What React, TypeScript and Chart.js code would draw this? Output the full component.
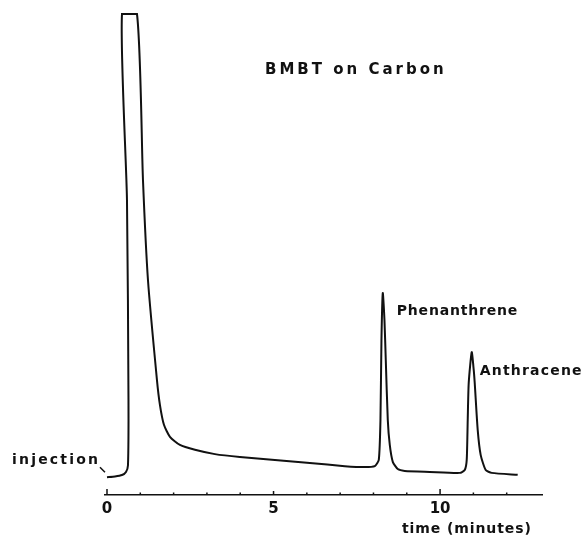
import { useEffect, useRef } from 'react';
import { Chart, registerables } from 'chart.js';

Chart.register(...registerables);

// Chromatogram trace: retention time (min) and detector response (arbitrary units, 100 = off scale)
const TIME = [
  0.0, 0.24, 0.45, 0.57, 0.63, 0.645, 0.6, 0.45,
  0.9, 1.08, 1.23, 1.5, 1.59, 1.71, 1.89, 2.19, 2.64, 3.24, 3.99, 5.04, 6.09, 7.14, 7.74,
  8.04, 8.16, 8.21, 8.24, 8.28, 8.33, 8.37, 8.43, 8.49, 8.58, 8.73, 8.94, 9.69, 10.59,
  10.74, 10.8, 10.83, 10.86, 10.95, 11.01, 11.04, 11.13, 11.22, 11.37, 11.55, 12.33,
];
const SIGNAL = [
  3.7, 3.85, 4.15, 4.8, 6.2, 19.8, 61.3, 100,
  100, 65.5, 44.7, 23.9, 18.7, 14.6, 12.1, 10.4, 9.4, 8.5, 7.9, 7.3, 6.65, 6.0, 5.8,
  6.0, 7.3, 15.6, 32.2, 42.0, 36.4, 28.0, 15.6, 10.4, 6.9, 5.4, 5.0, 4.8, 4.6,
  5.2, 7.3, 15.6, 23.3, 29.7, 26.0, 23.3, 13.5, 8.3, 5.2, 4.6, 4.2,
];

const PEAK_NAMES = ['Phenanthrene', 'Anthracene'];
const PEAK_TIMES = [8.28, 10.95];
const PEAK_HEIGHTS = [42.0, 29.7];

const TICK_LABELS = ['0', '5', '10'];
const CHART_TITLE = 'BMBT on Carbon';
const AXIS_TITLE = 'time (minutes)';
const INJECTION_LABEL = 'injection';

const FONT = '"DejaVu Sans", "Liberation Sans", sans-serif';

export default function App() {
  const ref = useRef<HTMLCanvasElement>(null);

  useEffect(() => {
    const canvas = ref.current;
    if (!canvas) return;

    const annotations = {
      id: 'annotations',
      afterDraw(chart: any) {
        const { ctx } = chart;
        const xs = chart.scales.x;
        const ys = chart.scales.y;
        const axisY = chart.chartArea.bottom;
        ctx.save();
        // upward tick marks on the time axis
        ctx.strokeStyle = '#111';
        ctx.lineWidth = 1.5;
        xs.ticks.forEach((t: any) => {
          if (t.value < 0 || t.value > 12) return;
          const px = xs.getPixelForValue(t.value);
          const h = t.value % 10 === 0 ? 6 : t.value % 5 === 0 ? 4 : 2.5;
          ctx.beginPath();
          ctx.moveTo(px, axisY);
          ctx.lineTo(px, axisY - h);
          ctx.stroke();
        });

        const txt = (s: string, x: number, y: number, size: number, sp: number) => {
          ctx.font = `bold ${size}px ${FONT}`;
          ctx.letterSpacing = `${sp}px`;
          ctx.fillStyle = '#111';
          ctx.textAlign = 'left';
          ctx.textBaseline = 'middle';
          ctx.fillText(s, x, y);
        };

        txt(CHART_TITLE, 265, 70, 15, 3);
        txt(AXIS_TITLE, 402, 529, 14, 0.9);
        txt(INJECTION_LABEL, 12, 460, 14, 2.2);

        // injection marker stroke
        const x0 = xs.getPixelForValue(TIME[0]);
        const y0 = ys.getPixelForValue(SIGNAL[0]);
        ctx.lineWidth = 1.5;
        ctx.beginPath();
        ctx.moveTo(x0 - 7, y0 - 10);
        ctx.lineTo(x0 - 2, y0 - 5);
        ctx.stroke();

        const offs = [
          [14, 18, 0.8],
          [8, 19, 1.2],
        ];
        PEAK_NAMES.forEach((name, i) => {
          const px = xs.getPixelForValue(PEAK_TIMES[i]);
          const py = ys.getPixelForValue(PEAK_HEIGHTS[i]);
          txt(name, px + offs[i][0], py + offs[i][1], 14, offs[i][2]);
        });
        ctx.restore();
      },
    };

    const chart = new Chart(canvas, {
      type: 'line',
      data: {
        datasets: [
          {
            data: TIME.map((t, i) => ({ x: t, y: SIGNAL[i] })),
            borderColor: '#111',
            borderWidth: 2,
            pointRadius: 0,
            tension: 0.2,
            fill: false,
            clip: 4,
          },
        ],
      },
      options: {
        responsive: false,
        animation: false,
        parsing: false as any,
        layout: { padding: { left: 105, right: 42, top: 14, bottom: 15 } },
        plugins: {
          legend: { display: false },
          tooltip: { enabled: false },
          title: { display: false },
        },
        scales: {
          x: {
            type: 'linear',
            min: -0.06,
            max: 13.06,
            grid: { display: false, drawTicks: false },
            border: { display: true, color: '#111', width: 1.5 },
            ticks: {
              stepSize: 1,
              includeBounds: false,
              autoSkip: false,
              maxRotation: 0,
              padding: 5,
              color: '#111',
              font: { family: FONT, size: 15, weight: 'bold' },
              callback: (v: any) => {
                const s = String(v);
                return TICK_LABELS.includes(s) ? s : '';
              },
            },
          },
          y: {
            type: 'linear',
            display: false,
            min: 0,
            max: 100,
          },
        },
      },
      plugins: [annotations],
    });

    return () => chart.destroy();
  }, []);

  return (
    <div style={{ position: 'absolute', left: 0, top: 0, width: 584, height: 538, background: '#fff' }}>
      <canvas ref={ref} width={584} height={538} />
    </div>
  );
}
